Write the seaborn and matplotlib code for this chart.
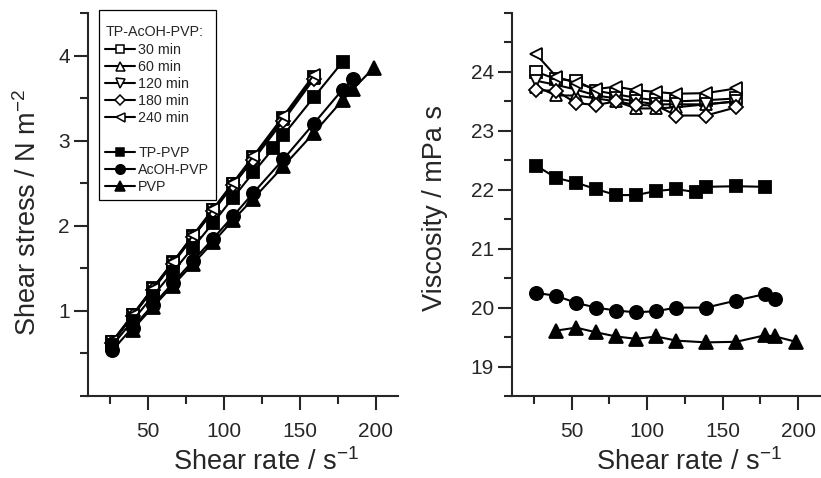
import matplotlib
matplotlib.use("Agg")
import matplotlib.pyplot as plt
from matplotlib.lines import Line2D
from matplotlib.ticker import MultipleLocator
import seaborn as sns

# ---------------- data ----------------
rate_open = [26.5, 39.8, 53.0, 66.3, 79.5, 92.8, 106.0, 119.3, 139.0, 159.0]
rate_tp = [26.5, 39.8, 53.0, 66.3, 79.5, 92.8, 106.0, 119.3, 132.5, 139.0, 159.0, 178.0]
rate_acoh = [26.5, 39.8, 53.0, 66.3, 79.5, 92.8, 106.0, 119.3, 139.0, 159.0, 178.0, 185.0]
rate_pvp = [39.8, 53.0, 66.3, 79.5, 92.8, 106.0, 119.3, 139.0, 159.0, 178.0, 185.0, 198.5]

# shear stress / N m^-2
stress_30 = [0.636, 0.950, 1.264, 1.570, 1.878, 2.186, 2.493, 2.804, 3.269, 3.744]
stress_60 = [0.629, 0.939, 1.251, 1.561, 1.868, 2.170, 2.478, 2.792, 3.260, 3.737]
stress_120 = [0.632, 0.946, 1.256, 1.565, 1.872, 2.181, 2.486, 2.798, 3.260, 3.737]
stress_180 = [0.628, 0.942, 1.244, 1.554, 1.868, 2.175, 2.484, 2.775, 3.233, 3.721]
stress_240 = [0.644, 0.952, 1.262, 1.572, 1.888, 2.198, 2.508, 2.819, 3.286, 3.771]
stress_tp = [0.594, 0.884, 1.172, 1.459, 1.742, 2.033, 2.330, 2.626, 2.910, 3.065, 3.508, 3.925]
stress_acoh = [0.537, 0.804, 1.064, 1.326, 1.586, 1.849, 2.114, 2.386, 2.780, 3.199, 3.601, 3.726]
stress_pvp = [0.781, 1.042, 1.298, 1.551, 1.807, 2.068, 2.319, 2.698, 3.088, 3.476, 3.609, 3.855]

# viscosity / mPa s
visc_30 = [24.00, 23.88, 23.85, 23.68, 23.62, 23.56, 23.52, 23.50, 23.52, 23.55]
visc_60 = [23.75, 23.60, 23.60, 23.55, 23.50, 23.38, 23.38, 23.40, 23.45, 23.50]
visc_120 = [23.85, 23.78, 23.70, 23.60, 23.55, 23.50, 23.45, 23.45, 23.45, 23.50]
visc_180 = [23.69, 23.68, 23.47, 23.44, 23.50, 23.44, 23.43, 23.26, 23.26, 23.40]
visc_240 = [24.30, 23.92, 23.81, 23.71, 23.75, 23.69, 23.66, 23.63, 23.64, 23.72]
visc_tp = [22.41, 22.20, 22.12, 22.01, 21.91, 21.91, 21.98, 22.01, 21.96, 22.05, 22.06, 22.05]
visc_acoh = [20.25, 20.20, 20.08, 20.00, 19.95, 19.92, 19.94, 20.00, 20.00, 20.12, 20.23, 20.14]
visc_pvp = [19.61, 19.66, 19.58, 19.51, 19.47, 19.51, 19.44, 19.41, 19.42, 19.53, 19.51, 19.42]

labels_open = ["30 min", "60 min", "120 min", "180 min", "240 min"]
labels_filled = ["TP-PVP", "AcOH-PVP", "PVP"]
legend_title = "TP-AcOH-PVP:"

# ---------------- style ----------------
sns.set_style("ticks")
plt.rcParams["font.family"] = ["Liberation Sans", "DejaVu Sans"]
plt.rcParams["mathtext.default"] = "regular"
plt.rcParams["axes.linewidth"] = 1.5

open_series = [
    (stress_30, visc_30, "s", 8.0),
    (stress_60, visc_60, "^", 9.0),
    (stress_120, visc_120, "v", 9.0),
    (stress_180, visc_180, "D", 7.5),
    (stress_240, visc_240, "<", 9.0),
]
filled_series = [
    (rate_tp, stress_tp, visc_tp, "s", 8.5),
    (rate_acoh, stress_acoh, visc_acoh, "o", 9.5),
    (rate_pvp, stress_pvp, visc_pvp, "^", 10.0),
]

fig = plt.figure(figsize=(8.21, 4.78), dpi=100)
axL = fig.add_axes([88 / 821, 1 - 396 / 478, (398 - 88) / 821, (396 - 13) / 478])
axR = fig.add_axes([512 / 821, 1 - 396 / 478, (820 - 512) / 821, (396 - 13) / 478])

lw = 1.5
mew = 1.3

for ax, col in ((axL, 0), (axR, 1)):
    for (st, vi, m, ms), lab in zip(open_series, labels_open):
        yv = st if col == 0 else vi
        sns.lineplot(x=rate_open, y=yv, ax=ax, color="black", marker=m,
                     markersize=ms, markerfacecolor="white", markeredgecolor="black",
                     markeredgewidth=mew, linewidth=lw, legend=False)
    for (rt, st, vi, m, ms), lab in zip(filled_series, labels_filled):
        yv = st if col == 0 else vi
        sns.lineplot(x=rt, y=yv, ax=ax, color="black", marker=m,
                     markersize=ms, markerfacecolor="black", markeredgecolor="black",
                     markeredgewidth=mew, linewidth=lw, legend=False)

for ax in (axL, axR):
    ax.set_xlim(10.5, 214.5)
    ax.xaxis.set_major_locator(MultipleLocator(50))
    ax.xaxis.set_minor_locator(MultipleLocator(25))
    ax.set_xticks([50, 100, 150, 200])
    ax.tick_params(axis="both", which="major", length=10, width=1.5,
                   labelsize=15, direction="out")
    ax.tick_params(axis="both", which="minor", length=6, width=1.5, direction="out")
    ax.tick_params(axis="x", which="major", pad=9)
    ax.tick_params(axis="y", which="major", pad=3)
    ax.set_xlabel("Shear rate / s$^{-1}$", fontsize=19.5, labelpad=5)
    ax.xaxis.label.set_x(0.575)
    sns.despine(ax=ax)

axL.set_ylim(0.0, 4.5)
axL.yaxis.set_major_locator(MultipleLocator(1))
axL.yaxis.set_minor_locator(MultipleLocator(0.5))
axL.set_yticks([1, 2, 3, 4])
axL.set_ylabel("Shear stress / N m$^{-2}$", fontsize=19.5, labelpad=12)
axL.yaxis.label.set_y(0.48)

axR.set_ylim(18.5, 25.0)
axR.yaxis.set_major_locator(MultipleLocator(1))
axR.yaxis.set_minor_locator(MultipleLocator(0.5))
axR.set_yticks([19, 20, 21, 22, 23, 24])
axR.set_ylabel("Viscosity / mPa s", fontsize=19.5, labelpad=16)
axR.yaxis.label.set_y(0.49)

# legend
handles = []
for (st, vi, m, ms) in open_series:
    handles.append(Line2D([], [], color="black", marker=m, markersize=ms * 0.72,
                          markerfacecolor="white", markeredgecolor="black",
                          markeredgewidth=1.1, linewidth=lw))
handles.append(Line2D([], [], color="none", linewidth=0))
for (rt, st, vi, m, ms) in filled_series:
    handles.append(Line2D([], [], color="black", marker=m, markersize=ms * 0.72,
                          markerfacecolor="black", markeredgecolor="black",
                          markeredgewidth=1.1, linewidth=lw))
leg_labels = labels_open + [""] + labels_filled
leg = axL.legend(handles, leg_labels, title="\n" + legend_title, title_fontsize=10.3,
                 fontsize=10.3, loc="upper left",
                 bbox_to_anchor=(99 / 821, 1 - 10 / 478), bbox_transform=fig.transFigure,
                 borderaxespad=0, frameon=True, fancybox=False, edgecolor="black",
                 framealpha=1, handlelength=2.1, handletextpad=0.2,
                 labelspacing=0.22, borderpad=0.45, alignment="left")
leg.get_title().set_linespacing(0.55)
leg.get_frame().set_linewidth(0.9)

fig.savefig("out.png", dpi=100)
